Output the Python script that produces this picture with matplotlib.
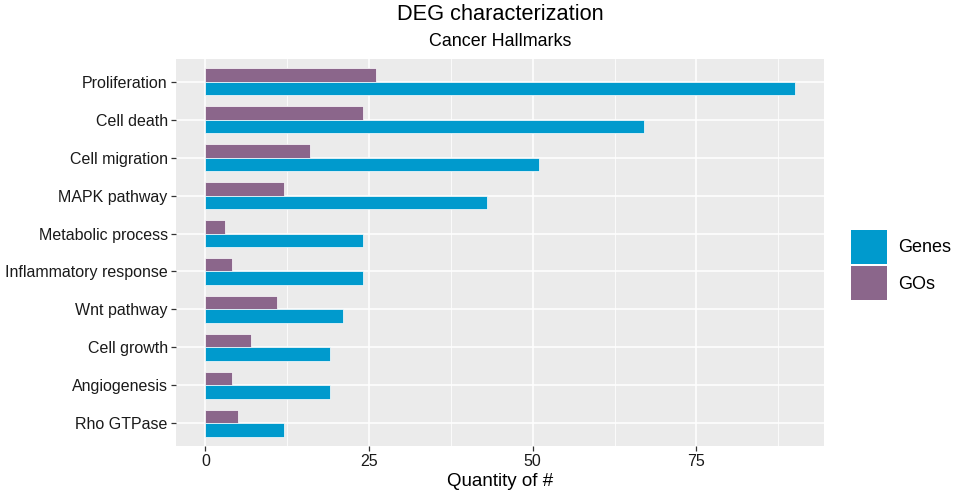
import numpy as np
import matplotlib.pyplot as plt
from matplotlib.patches import Patch

plt.rcParams['font.family'] = ['Liberation Sans', 'DejaVu Sans']

# data
hallmarks = ['Proliferation', 'Cell death', 'Cell migration', 'MAPK pathway',
             'Metabolic process', 'Inflammatory response', 'Wnt pathway',
             'Cell growth', 'Angiogenesis', 'Rho GTPase']
genes = [90, 67, 51, 43, 24, 24, 21, 19, 19, 12]
gos = [26, 24, 16, 12, 3, 4, 11, 7, 4, 5]

col_genes = '#009ACD'
col_gos = '#8B668B'

fig = plt.figure(figsize=(9.57, 4.96), dpi=100)
ax = fig.add_axes([176/957, 1-446/496, (824-176)/957, (446-59)/496])

y = np.arange(len(hallmarks))[::-1] + 1
h = 0.36
ax.barh(y + h/2, gos, height=h, color=col_gos, edgecolor='white', linewidth=0.5, zorder=3)
ax.barh(y - h/2, genes, height=h, color=col_genes, edgecolor='white', linewidth=0.5, zorder=3)

# ggplot-like look
ax.set_facecolor('#EBEBEB')
for s in ax.spines.values():
    s.set_visible(False)
xmax = max(genes)
ax.set_xlim(-0.05*xmax, 1.05*xmax)
ax.set_ylim(0.4, len(hallmarks) + 0.6)
ax.set_xticks([0, 25, 50, 75])
ax.set_xticks([12.5, 37.5, 62.5, 87.5], minor=True)
ax.set_yticks(y)
ax.set_yticklabels(hallmarks)
ax.grid(which='major', color='white', linewidth=1.1, zorder=0)
ax.grid(which='minor', axis='x', color='white', linewidth=0.55, zorder=0)
ax.set_axisbelow(True)
ax.tick_params(which='major', length=3.5, width=0.9, color='#333333',
               labelsize=11.5, labelcolor='#1a1a1a', pad=2.5)
ax.tick_params(which='minor', length=0)

ax.set_xlabel('Quantity of #', fontsize=13.5, color='black', labelpad=3)

# titles
cx = (176 + 824) / 2 / 957
fig.text(cx, 1 - 15/496, 'DEG characterization', ha='center', va='center', fontsize=15.7)
fig.text(cx, 1 - 42/496, 'Cancer Hallmarks', ha='center', va='center', fontsize=12.9)

# legend
handles = [Patch(facecolor=col_genes, edgecolor='none'),
           Patch(facecolor=col_gos, edgecolor='none')]
fig.legend(handles, ['Genes', 'GOs'], loc='center left',
           bbox_to_anchor=(851/957, 1 - 265/496), frameon=False,
           fontsize=13, handlelength=2.0, handleheight=2.5,
           labelspacing=0.15, handletextpad=0.6, borderpad=0, borderaxespad=0)

fig.savefig('out.png', dpi=100)
